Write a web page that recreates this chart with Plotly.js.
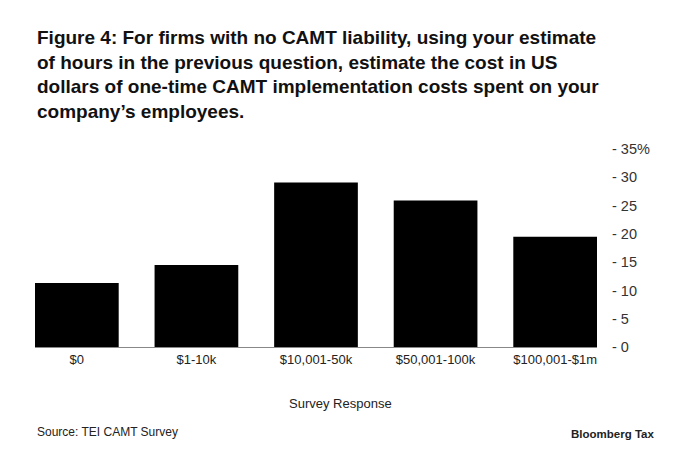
<!DOCTYPE html>
<html>
<head>
<meta charset="utf-8">
<script src="https://cdn.plot.ly/plotly-3.0.1.min.js"></script>
<style>
  html, body { margin: 0; padding: 0; background: #fff; }
  #chart { width: 680px; height: 462px; }
</style>
</head>
<body>
<div id="chart"></div>
<script>
// ---- Datos ----
const categories = ['$0', '$1-10k', '$10,001-50k', '$50,001-100k', '$100,001-$1m'];
const shares = [11.3, 14.5, 29.1, 25.9, 19.5];
const yTicks = [0, 5, 10, 15, 20, 25, 30, 35];
const yTickText = ['- 0', '- 5', '- 10', '- 15', '- 20', '- 25', '- 30', '- 35%'];

const titleText = 'Figure 4: For firms with no CAMT liability, using your estimate<br>' +
  'of hours in the previous question, estimate the cost in US<br>' +
  'dollars of one-time CAMT implementation costs spent on your<br>' +
  'company\u2019s employees.';

const font = 'Liberation Sans, Arial, sans-serif';

const trace = {
  x: categories,
  y: shares,
  type: 'bar',
  marker: { color: '#000000' },
  hoverinfo: 'x+y'
};

const layout = {
  width: 680,
  height: 462,
  paper_bgcolor: '#ffffff',
  plot_bgcolor: '#ffffff',
  font: { family: font, color: '#222222', size: 13 },
  margin: { t: 149, r: 83, b: 115, l: 35 },
  bargap: 0.3,
  showlegend: false,
  xaxis: {
    range: [-0.35, 4.35],
    showline: true,
    linecolor: '#888888',
    linewidth: 1,
    ticks: '',
    showgrid: false,
    zeroline: false,
    tickfont: { size: 13, color: '#222222' }
  },
  yaxis: {
    side: 'right',
    range: [0, 35],
    tickvals: yTicks,
    ticktext: yTickText,
    ticks: '',
    ticklabelstandoff: 14,
    showgrid: false,
    zeroline: false,
    showline: false,
    tickfont: { size: 14.5, color: '#333333' }
  },
  annotations: [
    {
      text: '<b>' + titleText + '</b>',
      xref: 'paper', yref: 'paper', x: 0, y: 1,
      xanchor: 'left', yanchor: 'top',
      yshift: 124,
      align: 'left', showarrow: false,
      font: { family: font, size: 19, color: '#111111' }
    },
    {
      // titulo del eje x, centrado en la figura
      text: 'Survey Response',
      xref: 'paper', yref: 'paper', x: 305 / 562, y: 0,
      xanchor: 'center', yanchor: 'middle',
      yshift: -56, showarrow: false,
      font: { family: font, size: 13, color: '#222222' }
    },
    {
      text: 'Source: TEI CAMT Survey',
      xref: 'paper', yref: 'paper', x: 0, y: 0,
      xanchor: 'left', yanchor: 'middle',
      yshift: -85, showarrow: false,
      font: { family: font, size: 12, color: '#222222' }
    },
    {
      text: '<b>Bloomberg Tax</b>',
      xref: 'paper', yref: 'paper', x: 1, y: 0,
      xanchor: 'right', yanchor: 'middle',
      xshift: 59, yshift: -87, showarrow: false,
      font: { family: font, size: 11.5, color: '#222222' }
    }
  ]
};

Plotly.newPlot('chart', [trace], layout, { displayModeBar: false, staticPlot: true });
</script>
</body>
</html>
